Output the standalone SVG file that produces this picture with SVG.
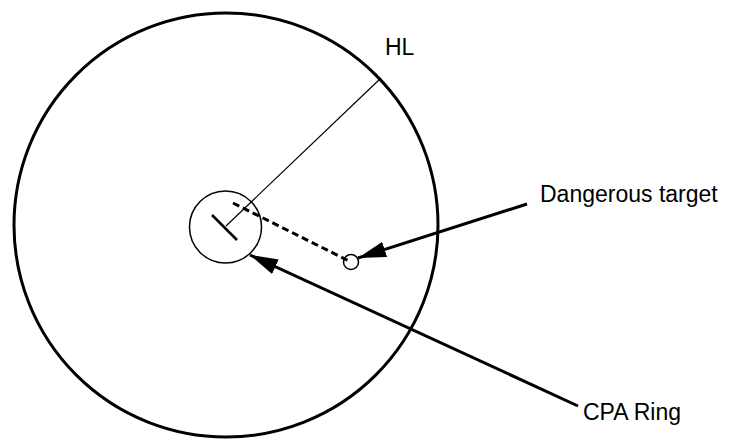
<svg xmlns="http://www.w3.org/2000/svg" width="729" height="439" viewBox="0 0 729 439">
<defs>
<style>
.lbl{font-family:"Liberation Sans",Arial,sans-serif;font-size:23px;fill:#000}
.thick{stroke:#000;stroke-width:3;fill:none}
.arrow{stroke:#000;stroke-width:3;fill:none;marker-end:url(#ah)}
</style>
<marker id="ah" markerUnits="userSpaceOnUse" viewBox="0 0 28 16" refX="28" refY="8" markerWidth="28" markerHeight="16" orient="auto">
<path d="M0,0 L28,8 L0,16 Z" fill="#000"/>
</marker>
</defs>
<rect width="729" height="439" fill="#fff"/>
<g id="range-circle"><circle cx="226" cy="225" r="212" class="thick"/></g>
<g id="cpa-ring"><circle cx="225.5" cy="227" r="36" fill="none" stroke="#000" stroke-width="1.5"/></g>
<g id="own-ship">
<line x1="212" y1="215" x2="237" y2="240" stroke="#000" stroke-width="2.5"/>
<line x1="226" y1="226" x2="381" y2="78" stroke="#000" stroke-width="1.2"/>
</g>
<g id="target"><circle cx="351" cy="262" r="7.5" fill="none" stroke="#000" stroke-width="1.5"/></g>
<g id="connectors">
<line x1="233" y1="203" x2="351" y2="262" stroke="#000" stroke-width="3" stroke-dasharray="7 4"/>
<line x1="527" y1="204" x2="358" y2="258" class="arrow"/>
<line x1="578" y1="406" x2="250" y2="255" class="arrow"/>
</g>
<g id="labels">
<text class="lbl" x="385" y="55">HL</text>
<text class="lbl" x="540" y="202">Dangerous target</text>
<text class="lbl" x="583" y="420">CPA Ring</text>
</g>
</svg>
